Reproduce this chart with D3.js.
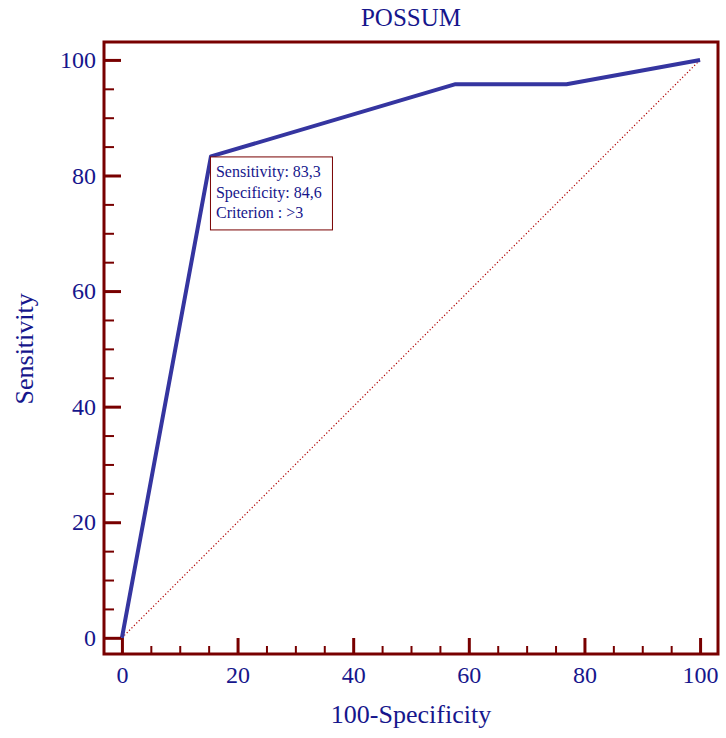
<!DOCTYPE html>
<html><head><meta charset="utf-8">
<script src="https://cdn.jsdelivr.net/npm/d3@7"></script>
<style>body{margin:0;background:#fff}</style>
</head><body>
<svg id="c" width="726" height="738"></svg>
<script>
const fpr = [0, 15.4, 57.7, 76.9, 100];
const tpr = [0, 83.3, 95.8, 95.8, 100];
const majorTicks = [0, 20, 40, 60, 80, 100];
const minorTicks = [5,10,15,25,30,35,45,50,55,65,70,75,85,90,95];
const annotLines = ["Sensitivity: 83,3", "Specificity: 84,6", "Criterion : >3"];
const annotIndex = 1;
const title = "POSSUM";
const xLabel = "100-Specificity";
const yLabel = "Sensitivity";

const txt = "#16168c", frame = "#780000", roc = "#3535a0";
const font = "'Liberation Serif','Times New Roman',serif";
const svg = d3.select("#c");
const L=104, R=718, T=42, B=654;
const x = d3.scaleLinear().domain([-3.1, 103.1]).range([L, R]);
const y = d3.scaleLinear().domain([-2.8, 103.1]).range([B, T]);

// diagonal
svg.append("line").attr("x1", x(0)).attr("y1", y(0)).attr("x2", x(100)).attr("y2", y(100))
  .attr("stroke", "#b00000").attr("stroke-width", 1.2).attr("stroke-dasharray", "1.2,2.2");

// ROC
const pts = fpr.map((d,i)=>[d,tpr[i]]);
svg.append("path").attr("d", d3.line().x(d=>x(d[0])).y(d=>y(d[1]))(pts))
  .attr("fill","none").attr("stroke", roc).attr("stroke-width", 4).attr("stroke-linejoin","round");

// axes
function styleAxis(g, w){ g.select(".domain").remove(); g.selectAll(".tick line").attr("stroke", frame).attr("stroke-width", w); g.selectAll("text").attr("fill", txt).style("font-family", font).style("font-size","24px"); }
const gxm = svg.append("g").attr("transform",`translate(0,${B})`)
  .call(d3.axisBottom(x).tickValues(majorTicks).tickSize(-16).tickPadding(12).tickFormat(d3.format("d")));
styleAxis(gxm, 3);
const gxn = svg.append("g").attr("transform",`translate(0,${B})`)
  .call(d3.axisBottom(x).tickValues(minorTicks).tickSize(-8).tickFormat(""));
styleAxis(gxn, 2);
const gym = svg.append("g").attr("transform",`translate(${L},0)`)
  .call(d3.axisLeft(y).tickValues(majorTicks).tickSize(-17).tickPadding(8).tickFormat(d3.format("d")));
styleAxis(gym, 3);
const gyn = svg.append("g").attr("transform",`translate(${L},0)`)
  .call(d3.axisLeft(y).tickValues(minorTicks).tickSize(-10).tickFormat(""));
styleAxis(gyn, 2);

// frame
svg.append("rect").attr("x", L).attr("y", T).attr("width", R-L).attr("height", B-T)
  .attr("fill","none").attr("stroke", frame).attr("stroke-width", 3);

// annotation
const ax = x(fpr[annotIndex]), ay = y(tpr[annotIndex]);
svg.append("rect").attr("x", ax-0.5).attr("y", ay+0.5).attr("width", 122).attr("height", 73)
  .attr("fill","#fff").attr("stroke", frame).attr("stroke-width", 1);
annotLines.forEach((s,i)=>{
  svg.append("text").attr("x", ax+5).attr("y", ay+21+i*20.5).text(s)
    .attr("fill", txt).style("font-family", font).style("font-size","16px");
});

// titles
svg.append("text").attr("x", (L+R)/2).attr("y", 26).attr("text-anchor","middle").text(title)
  .attr("fill", txt).style("font-family", font).style("font-size","25px");
svg.append("text").attr("x", (L+R)/2).attr("y", 723).attr("text-anchor","middle").text(xLabel)
  .attr("fill", txt).style("font-family", font).style("font-size","26px");
svg.append("text").attr("transform", `translate(33,${(y(0)+y(100))/2}) rotate(-90)`).attr("text-anchor","middle").text(yLabel)
  .attr("fill", txt).style("font-family", font).style("font-size","26px");
</script>
</body></html>
